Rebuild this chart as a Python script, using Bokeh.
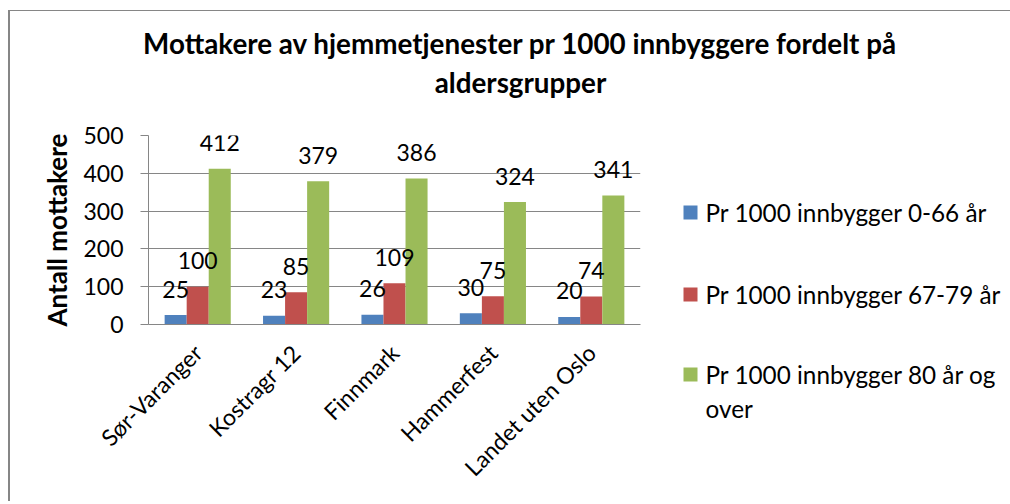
from math import pi
from bokeh.plotting import figure
from bokeh.layouts import column, row
from bokeh.models import FactorRange, Range1d, FixedTicker, LabelSet, ColumnDataSource
from bokeh.core.properties import value
from bokeh.transform import dodge
from bokeh.embed import file_html
from bokeh.resources import INLINE

categories = ["Sør-Varanger", "Kostragr 12", "Finnmark", "Hammerfest", "Landet uten Oslo"]
series_0_66 = [25, 23, 26, 30, 20]
series_67_79 = [100, 85, 109, 75, 74]
series_80 = [412, 379, 386, 324, 341]
series_names = ["Pr 1000 innbygger 0-66 år", "Pr 1000 innbygger 67-79 år",
                "Pr 1000 innbygger 80 år og over"]
y_ticks = [0, 100, 200, 300, 400, 500]
title_lines = ["Mottakere av hjemmetjenester pr 1000 innbyggere fordelt på", "aldersgrupper"]
y_label = "Antall mottakere"

colors = ["#4F81BD", "#C0504D", "#9BBB59"]
FONT = "Lato"
GRAY = "#868686"
FS = "23px"
COMMON = dict(output_backend="svg", toolbar_location=None)

# ---------------- title strip (page y 11..105) ----------------
ft = figure(width=1000, height=94, x_range=Range1d(10, 1010), y_range=Range1d(105, 11),
            x_axis_location=None, y_axis_location=None, min_border=0, **COMMON)
ft.grid.visible = False
ft.outline_line_color = None
ft.text(x=[520, 520], y=[43, 82], text=title_lines, text_align="center",
        text_baseline="middle", text_font=value(FONT), text_font_size="27.8px",
        text_font_style="bold", text_color="black")

# ---------------- chart ----------------
src = ColumnDataSource(dict(
    cat=categories,
    a=series_0_66, b=series_67_79, c=series_80,
    la=[str(v) for v in series_0_66],
    lb=[str(v) for v in series_67_79],
    lc=[str(v) for v in series_80],
))

fc = figure(x_range=FactorRange(factors=categories, range_padding=0, factor_padding=0),
            y_range=Range1d(0, 500), width=638, height=396,
            min_border_left=138, min_border_right=8,
            min_border_top=30, min_border_bottom=177, **COMMON)
fc.outline_line_color = None

bw = 0.224
for field, off, col in [("a", -bw, colors[0]), ("b", 0.0, colors[1]), ("c", bw, colors[2])]:
    fc.vbar(x=dodge("cat", off, range=fc.x_range), top=field, width=bw, source=src,
            fill_color=col, line_color=None)
    fc.add_layout(LabelSet(x=dodge("cat", off, range=fc.x_range), y=field, text="l" + field,
                           source=src, y_offset=26, text_align="center",
                           text_baseline="middle", text_font=value(FONT),
                           text_font_size=value(FS), text_color="black"))

fc.yaxis.ticker = FixedTicker(ticks=y_ticks)
fc.yaxis.axis_line_color = GRAY
fc.yaxis.major_tick_line_color = GRAY
fc.yaxis.major_tick_out = 8
fc.yaxis.major_tick_in = 0
fc.yaxis.minor_tick_line_color = None
fc.yaxis.major_label_standoff = 17
fc.yaxis.major_label_text_font = FONT
fc.yaxis.major_label_text_font_size = FS
fc.yaxis.major_label_text_color = "black"
fc.yaxis.axis_label = y_label
fc.yaxis.axis_label_text_font = FONT
fc.yaxis.axis_label_text_font_size = "26px"
fc.yaxis.axis_label_text_font_style = "bold"
fc.yaxis.axis_label_text_color = "black"
fc.yaxis.axis_label_standoff = 7

fc.xaxis.axis_line_color = GRAY
fc.xaxis.major_tick_line_color = None
fc.xaxis.minor_tick_line_color = None
fc.xaxis.major_label_orientation = pi / 4
fc.xaxis.major_label_text_font = FONT
fc.xaxis.major_label_text_font_size = FS
fc.xaxis.major_label_text_color = "black"
fc.xaxis.major_label_standoff = 18

fc.xgrid.grid_line_color = None
fc.ygrid.grid_line_color = GRAY
fc.ygrid.ticker = FixedTicker(ticks=y_ticks)

# ---------------- legend strip (page x 648..1010, y 105..501) ----------------
fl = figure(width=362, height=396, x_range=Range1d(648, 1010), y_range=Range1d(501, 105),
            x_axis_location=None, y_axis_location=None, min_border=0, **COMMON)
fl.grid.visible = False
fl.outline_line_color = None
item_y = [212, 294, 374]
fl.scatter(x=[690] * 3, y=item_y, marker="square", size=14, fill_color=colors, line_color=None)
head, tail = series_names[2].rsplit(" ", 1)
fl.text(x=[705] * 4, y=item_y + [408], text=series_names[:2] + [head, tail],
        text_align="left", text_baseline="middle", text_font=value(FONT),
        text_font_size="24.3px", text_color="black")

layout = column(ft, row(fc, column(fl)))
layout.styles = {"border-left": "2px solid #868686", "border-top": "1px solid #868686",
                 "margin-top": "10px", "margin-left": "8px"}

open("out.html", "w").write(file_html(layout, INLINE))
